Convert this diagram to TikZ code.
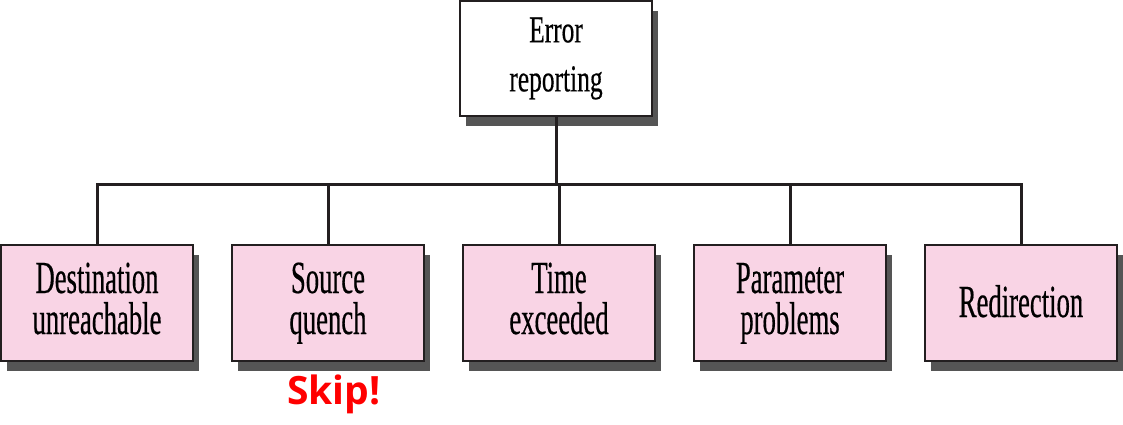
\documentclass[tikz,border=0pt]{standalone}
\usepackage{fontspec}
\setmainfont{Liberation Serif}
\newfontfamily\rootfont{Liberation Serif}[FakeStretch=0.67,FakeBold=0.4]
\newfontfamily\leaffont{Liberation Serif}[FakeStretch=0.58,FakeBold=0.4]
\newfontfamily\skipfont{Open Sans}
\usepackage{tikz}
\usetikzlibrary{positioning,shadows}
\definecolor{Line}{HTML}{231F20}
\definecolor{Leaf}{HTML}{F9D4E5}
\definecolor{Shade}{HTML}{555555}
\definecolor{Warn}{HTML}{FF0000}
% struts that lift the leaf texts a little above the box middle
\newcommand\hiline{\rule{0pt}{40pt}}
\newcommand\loline[1][19pt]{\rule[-#1]{0pt}{#1}}

\begin{document}
\begin{tikzpicture}[
 x=1pt,y=1pt,
 node distance=37pt,
 root/.style={draw=Line,line width=2pt,fill=white,minimum width=192pt,minimum height=115pt,align=center,font=\rootfont\fontsize{38}{49}\selectfont,drop shadow={shadow xshift=6pt,shadow yshift=-10pt,fill=Shade,opacity=1}},
 leaf/.style={draw=Line,line width=2pt,fill=Leaf,minimum width=192pt,minimum height=116pt,inner ysep=0pt,align=center,font=\leaffont\fontsize{46}{41}\selectfont,drop shadow={shadow xshift=6pt,shadow yshift=-10pt,fill=Shade,opacity=1}},
 conn/.style={draw=Line,line width=3pt},
 note/.style={text=Warn,font=\skipfont\bfseries\fontsize{39}{39}\selectfont}
]
\useasboundingbox (0,0) rectangle (1123,-424);
\node[root] (err) at (556,-58.5) {Error\\reporting};
\node[leaf] (dest) at (97,-303) {\hiline Destination\\unreachable\loline};
\node[leaf,right=of dest] (src) {\hiline Source\\quench\loline};
\node[leaf,right=of src] (time) {\hiline Time\\exceeded\loline};
\node[leaf,right=of time] (param) {\hiline Parameter\\problems\loline};
\node[leaf,right=of param] (redir) {\hiline Redirection\loline[12pt]};
\node[note,below=9pt of src,xshift=6pt] (skip) {Skip!};
\coordinate (bar) at (err.south |- 0,-184);
\draw[conn] (err.south) -- (bar);
\foreach \n in {dest,src,time,param,redir} \draw[conn] (bar) -| (\n.north);
\end{tikzpicture}
\end{document}
